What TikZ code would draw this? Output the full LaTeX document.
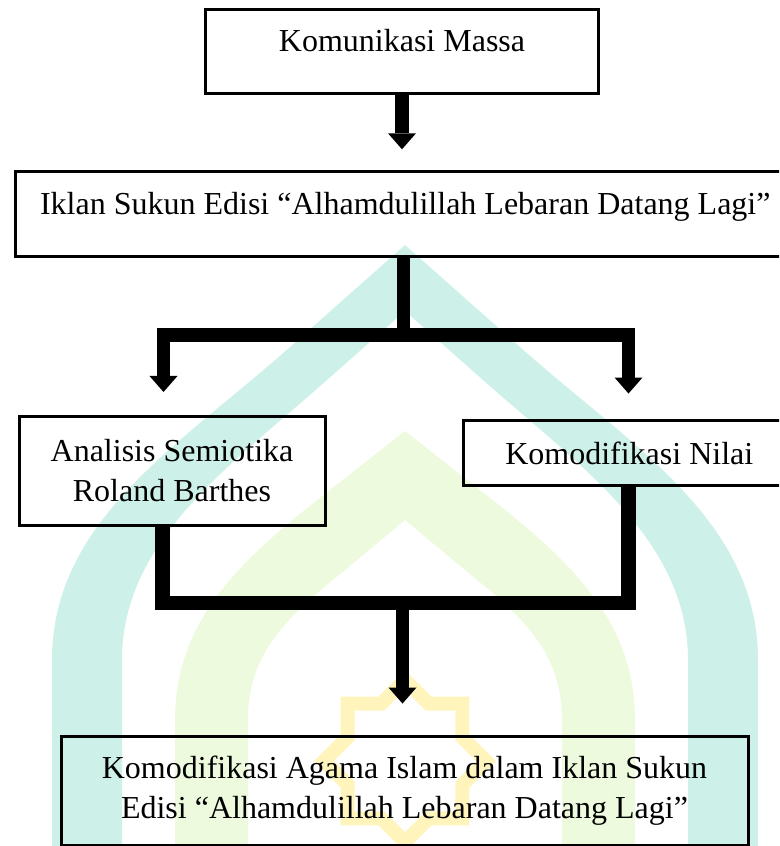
\documentclass[tikz,border=0pt]{standalone}
\usepackage{fontspec}
\setmainfont{Liberation Serif}
\usetikzlibrary{arrows.meta}

\definecolor{wmteal}{RGB}{205,240,232}
\definecolor{wmlime}{RGB}{238,250,222}
\definecolor{wmgold}{RGB}{255,245,188}

\tikzset{
  flowbox/.style={draw=black, line width=2.25pt, inner sep=0pt, align=center, font=\fontsize{24}{30}\selectfont},
  midline/.style={text height=16pt, text depth=16pt},
  flowline/.style={line width=10.2pt, line join=miter},
  flowarrow/.style={flowline, -{Triangle[length=12pt, width=21pt, line width=0pt]}},
}

\begin{document}
\begin{tikzpicture}[x=0.75pt,y=0.75pt,yscale=-1,xscale=1]
\useasboundingbox (0,0) rectangle (779,846);
\clip (0,0) rectangle (779,846);

%Shape: Arch (watermark, outer)
\fill [wmteal, even odd rule] (52,850) -- (52,660) .. controls (52,520) and (180,445) .. (290,347) -- (405,245) -- (520,347) .. controls (630,445) and (758,520) .. (758,660) -- (758,850) -- cycle
  (122,850) -- (122,660) .. controls (122,540) and (230,466) .. (327,380) -- (405,311) -- (483,380) .. controls (580,466) and (688,540) .. (688,660) -- (688,850) -- cycle ;
%Shape: Arch (watermark, inner)
\fill [wmlime, even odd rule] (175,850) -- (175,720) .. controls (175,620) and (240,560) .. (330,490) -- (405,431) -- (480,490) .. controls (570,560) and (635,620) .. (635,720) -- (635,850) -- cycle
  (248,850) -- (248,720) .. controls (248,650) and (290,615) .. (345,570) -- (405,520) -- (465,570) .. controls (520,615) and (562,650) .. (562,720) -- (562,850) -- cycle ;
%Shape: Star (watermark)
\begin{scope}[shift={(405,761)}]
\draw [wmgold, line width=10.5pt, line join=miter] (0:81) -- (22.5:62) -- (45:81) -- (67.5:62) -- (90:81) -- (112.5:62) -- (135:81) -- (157.5:62) -- (180:81) -- (202.5:62) -- (225:81) -- (247.5:62) -- (270:81) -- (292.5:62) -- (315:81) -- (337.5:62) -- cycle ;
\end{scope}

%Shape: Rectangle
\node [flowbox, midline, minimum width=294.75pt, minimum height=63pt] (massa) at (402,51.5) {Komunikasi Massa};
%Shape: Rectangle
\node [flowbox, midline, minimum width=584.6pt, minimum height=63.75pt] (iklan) at (405.25,214.3) {Iklan Sukun Edisi “Alhamdulillah Lebaran Datang Lagi”};
%Shape: Rectangle
\node [flowbox, minimum width=229.5pt, minimum height=82.1pt] (semiotika) at (172,470.75) {Analisis Semiotika\\Roland Barthes};
%Shape: Rectangle
\node [flowbox, minimum width=248.6pt, minimum height=48.75pt] (nilai) at (629.25,453) {Komodifikasi Nilai};
%Shape: Rectangle
\node [flowbox, minimum width=515.25pt, minimum height=81.75pt] (agama) at (404.5,791) {Komodifikasi Agama Islam dalam Iklan Sukun\\Edisi “Alhamdulillah Lebaran Datang Lagi”};

% Junctions
\coordinate (split) at (403.5,335);
\coordinate (splitL) at (163.5,335);
\coordinate (splitR) at (628.5,335);
\coordinate (merge) at (402.5,603);
\coordinate (mergeL) at (162.5,603);
\coordinate (mergeR) at (628.5,603);

%Straight Lines [massa -> iklan]
\draw [flowarrow, shorten >=15.75pt] (massa.south) -- (massa.south |- iklan.north) ;
%Straight Lines [iklan -> semiotika, nilai]
\draw [flowline] (iklan.south -| split) -- (split) ;
\draw [flowarrow, shorten >=16.9pt] (split) -- (splitL) -- (splitL |- semiotika.north) ;
\draw [flowarrow, shorten >=19.1pt] (split) -- (splitR) -- (splitR |- nilai.north) ;
%Straight Lines [semiotika, nilai -> agama]
\draw [flowline, line width=11pt] (semiotika.south -| mergeL) -- (mergeL) -- (mergeR) -- (nilai.south -| mergeR) ;
\draw [flowarrow, shorten >=23.6pt] (merge) -- (merge |- agama.north) ;

\end{tikzpicture}
\end{document}
